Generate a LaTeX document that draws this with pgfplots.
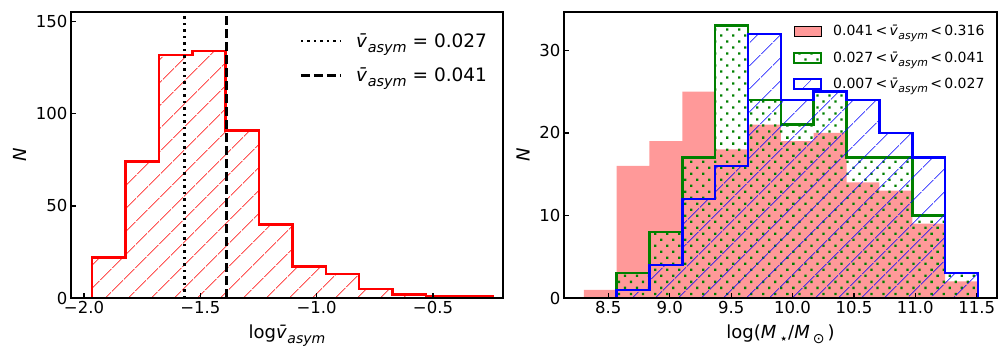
\documentclass[border=0pt]{standalone}
\usepackage{fontspec}
\setmainfont{DejaVu Sans}
\usepackage{graphicx}
\usepackage{pgfplots}
\pgfplotsset{compat=1.18}
\usetikzlibrary{patterns.meta}

\definecolor{mplgreen}{RGB}{0,128,0}
\definecolor{mplpink}{RGB}{255,153,153}

\newcommand\sub[1]{\raisebox{-0.28em}{\scalebox{0.78}{#1}}}
\newcommand\vasym{\textit{v̄}\sub{\textit{asym}}}

\pgfplotsset{
  histfig/.style={
    scale only axis, width=432pt, height=286pt,
    axis on top,
    axis line style={line width=2.5pt},
    tick align=inside, xtick pos=bottom, ytick pos=left,
    major tick length=5pt,
    tick style={line width=1.2pt, black},
    /pgf/number format/assume math mode=true,
    xticklabel style={font=\fontsize{16.5}{18}\selectfont},
    yticklabel style={font=\fontsize{16.5}{18}\selectfont},
    xlabel style={font=\fontsize{18}{20}\selectfont, yshift=-4pt},
    ylabel style={font=\fontsize{18}{20}\selectfont, yshift=3pt},
    legend cell align=left,
  }
}

\begin{document}
\begin{tikzpicture}
\path[use as bounding box] (0,0) rectangle (1008pt,360pt);

% left: distribution of log v_asym
\begin{axis}[histfig, at={(71pt,62pt)}, anchor=south west,
  xmin=-2.056, xmax=-0.199, ymin=0, ymax=155.3,
  xtick={-2,-1.5,-1,-0.5}, xticklabels={−2.0,−1.5,−1.0,−0.5},
  ytick={0,50,100,150},
  xlabel={log\vasym}, ylabel={\textit{N}},
  legend style={at={(0.975,0.94)}, anchor=north east, draw=none, fill=none,
    font=\fontsize{18.5}{20}\selectfont, row sep=15pt,
    /tikz/every odd column/.append style={column sep=12pt}},
  legend image code/.code={\draw[#1] (0pt,0pt) -- (40pt,0pt);}]
\addplot[forget plot, const plot, draw=red, line width=2.5pt, line join=miter,
  pattern={Lines[angle=45,distance=17pt,line width=0.6pt]}, pattern color=red]
  coordinates {(-1.965,22) (-1.8215,74) (-1.678,132) (-1.5345,134) (-1.391,91)
  (-1.2475,40) (-1.104,17) (-0.9605,13) (-0.817,5) (-0.6735,2) (-0.530,1)
  (-0.3865,1) (-0.243,1)} \closedcycle;
\addplot[black, line width=2.5pt, dash pattern=on 2.5pt off 4pt]
  coordinates {(-1.5686,0) (-1.5686,155.3)};
\addlegendentry{\vasym{} = 0.027}
\addplot[black, line width=2.5pt, dash pattern=on 9pt off 4pt]
  coordinates {(-1.3872,0) (-1.3872,155.3)};
\addlegendentry{\vasym{} = 0.041}
\end{axis}

% right: stellar mass in three v_asym bins
\begin{axis}[histfig, at={(564pt,62pt)}, anchor=south west, width=433pt,
  xmin=8.139, xmax=11.665, ymin=0, ymax=34.65,
  xtick={8.5,9,9.5,10,10.5,11,11.5},
  xticklabels={8.5,9.0,9.5,10.0,10.5,11.0,11.5},
  ytick={0,10,20,30},
  xlabel={log(\textit{M}\,\sub{⋆}/\textit{M}\,\sub{⊙}\,)},
  ylabel={\textit{N}},
  legend style={at={(0.983,0.968)}, anchor=north east, draw=none, fill=none,
    font=\fontsize{14}{15}\selectfont, row sep=10.5pt,
    /tikz/every odd column/.append style={column sep=9pt}},
  legend image code/.code={\draw[#1] (0pt,-5pt) rectangle (27pt,5pt);}]
\addplot[const plot, draw=none, fill=mplpink]
  coordinates {(8.3,1) (8.5675,16) (8.835,19) (9.1025,25) (9.37,18) (9.6375,21)
  (9.905,19) (10.1725,20) (10.44,14) (10.7075,13) (10.975,9) (11.2425,2)
  (11.51,2)} \closedcycle;
\addlegendentry{0.041\,<\,\vasym{}\,<\,0.316}
\addplot[const plot, draw=mplgreen, line width=2.5pt, line join=miter,
  pattern={Dots[angle=45,distance=8.5pt,radius=1.6pt]}, pattern color=mplgreen]
  coordinates {(8.3,0) (8.5675,3) (8.835,8) (9.1025,17) (9.37,33) (9.6375,24)
  (9.905,21) (10.1725,25) (10.44,17) (10.7075,17) (10.975,10) (11.2425,3)
  (11.51,3)} \closedcycle;
\addlegendentry{0.027\,<\,\vasym{}\,<\,0.041}
\addplot[const plot, draw=blue, line width=2.5pt, line join=miter,
  pattern={Lines[angle=45,distance=17pt,line width=0.6pt]}, pattern color=blue]
  coordinates {(8.3,0) (8.5675,1) (8.835,4) (9.1025,12) (9.37,16) (9.6375,32)
  (9.905,24) (10.1725,25) (10.44,24) (10.7075,20) (10.975,17) (11.2425,3)
  (11.51,3)} \closedcycle;
\addlegendentry{0.007\,<\,\vasym{}\,<\,0.027}
\end{axis}
\end{tikzpicture}
\end{document}
